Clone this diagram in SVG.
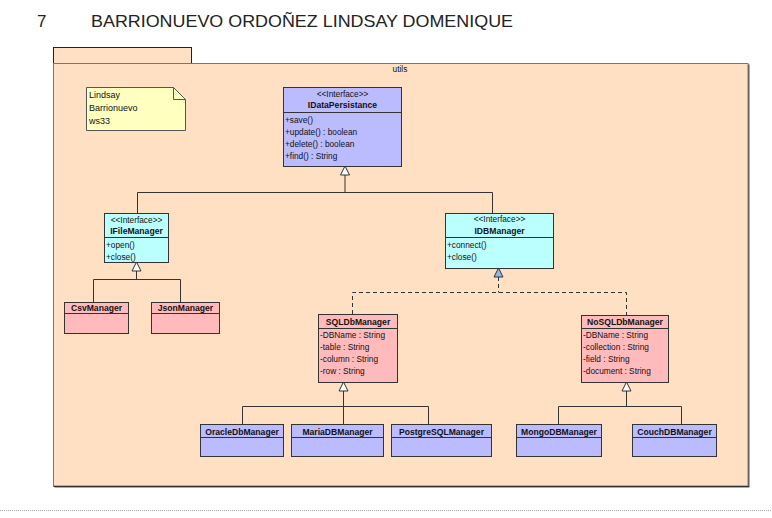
<svg xmlns="http://www.w3.org/2000/svg" width="772" height="518" viewBox="0 0 772 518">
<style>
text{font-family:"Liberation Sans",Arial,sans-serif;fill:#111}
.title{font-size:17px;fill:#222}
.s{font-size:8.3px}
.n{font-size:8.6px;font-weight:bold}
.note{font-size:9px}
.box{stroke:#333;stroke-width:1}
.ifb{fill:#bbbbff}
.ifc{fill:#bbffff}
.pk{fill:#ffbbbb}
.bl{fill:#bbbbff}
.ln{stroke:#333;stroke-width:1;fill:none}
.dash{stroke:#333;stroke-width:1;fill:none;stroke-dasharray:4,3}
.tri{fill:#fff;stroke:#333;stroke-width:1}
.trib{fill:#88bbee;stroke:#333;stroke-width:1}
</style>
<rect x="0" y="0" width="772" height="518" fill="#fff"/>
<text class="title" x="37" y="27">7</text>
<text class="title" x="91" y="27" textLength="422" lengthAdjust="spacingAndGlyphs">BARRIONUEVO ORDOÑEZ LINDSAY DOMENIQUE</text>
<line x1="0" y1="510.5" x2="772" y2="510.5" stroke="#aaa" stroke-width="1" stroke-dasharray="1,1"/>

<g id="package-utils">
<rect x="53.5" y="47.5" width="138" height="16" fill="#ffe0c2" stroke="#222"/>
<rect x="54.5" y="64.5" width="695" height="423" fill="#555"/>
<rect x="53.5" y="63.5" width="694.5" height="422.5" fill="#ffe0c2" stroke="#777"/>
<line x1="53.5" y1="486.5" x2="749" y2="486.5" stroke="#333"/>
<text class="s" x="400" y="72" text-anchor="middle" font-size="8">utils</text>
</g>

<g id="note">
<polygon points="86.5,87.5 173.5,87.5 185.5,99.5 185.5,130.5 86.5,130.5" fill="#ffffc0" stroke="#555"/>
<polyline points="173.5,87.5 173.5,99.5 185.5,99.5" fill="none" stroke="#555"/>
<text class="note" x="89" y="98">Lindsay</text>
<text class="note" x="89" y="111">Barrionuevo</text>
<text class="note" x="89" y="124">ws33</text>
</g>

<g id="connectors">
<polyline class="ln" points="345,175 345,192.5"/>
<polyline class="ln" points="137.5,213 137.5,192.5 492.5,192.5 492.5,213"/>
<polygon class="tri" points="345,166 340.5,175 349.5,175"/>

<polyline class="ln" points="136.5,271 136.5,279.5"/>
<polyline class="ln" points="93.5,302 93.5,279.5 180.5,279.5 180.5,302"/>
<polygon class="tri" points="136.5,262 132,271 141,271"/>

<polyline class="dash" points="498.5,277 498.5,292.5"/>
<polyline class="dash" points="352.5,314 352.5,292.5 626.5,292.5 626.5,315"/>
<polygon class="trib" points="498.5,268 494,277 503,277"/>

<polyline class="ln" points="343.5,391 343.5,424"/>
<polyline class="ln" points="242.5,424 242.5,406.5 428.5,406.5 428.5,424"/>
<polygon class="tri" points="343.5,382 339,391 348,391"/>

<polyline class="ln" points="626.5,391 626.5,406.5"/>
<polyline class="ln" points="558.5,425 558.5,406.5 681.5,406.5 681.5,424"/>
<polygon class="tri" points="626.5,382 622,391 631,391"/>
</g>

<g id="IDataPersistance">
<rect class="box ifb" x="283.5" y="87.5" width="118" height="79"/>
<text class="s" x="342.5" y="97" text-anchor="middle">&lt;&lt;Interface&gt;&gt;</text>
<text class="n" x="342.5" y="108" text-anchor="middle">IDataPersistance</text>
<line class="ln" x1="283.5" y1="112.5" x2="401.5" y2="112.5"/>
<text class="s" x="285" y="123">+save()</text>
<text class="s" x="285" y="135">+update() : boolean</text>
<text class="s" x="285" y="147">+delete() : boolean</text>
<text class="s" x="285" y="159">+find() : String</text>
</g>

<g id="IFileManager">
<rect class="box ifc" x="104.5" y="213.5" width="64" height="49"/>
<text class="s" x="136.5" y="223" text-anchor="middle">&lt;&lt;Interface&gt;&gt;</text>
<text class="n" x="136.5" y="234" text-anchor="middle">IFileManager</text>
<line class="ln" x1="104.5" y1="237.5" x2="168.5" y2="237.5"/>
<text class="s" x="106" y="248">+open()</text>
<text class="s" x="106" y="260">+close()</text>
</g>

<g id="IDBManager">
<rect class="box ifc" x="445.5" y="213.5" width="108" height="55"/>
<text class="s" x="499.5" y="222" text-anchor="middle">&lt;&lt;Interface&gt;&gt;</text>
<text class="n" x="499.5" y="234" text-anchor="middle">IDBManager</text>
<line class="ln" x1="445.5" y1="237.5" x2="553.5" y2="237.5"/>
<text class="s" x="447" y="248">+connect()</text>
<text class="s" x="447" y="260">+close()</text>
</g>

<g id="CsvManager">
<rect class="box pk" x="64.5" y="302.5" width="64" height="31"/>
<line class="ln" x1="64.5" y1="313.5" x2="128.5" y2="313.5"/>
<text class="n" x="96.5" y="311" text-anchor="middle">CsvManager</text>
</g>

<g id="JsonManager">
<rect class="box pk" x="151.5" y="302.5" width="68" height="31"/>
<line class="ln" x1="151.5" y1="313.5" x2="219.5" y2="313.5"/>
<text class="n" x="185.5" y="311" text-anchor="middle">JsonManager</text>
</g>

<g id="SQLDbManager">
<rect class="box pk" x="318.5" y="314.5" width="79" height="68"/>
<text class="n" x="358" y="325" text-anchor="middle">SQLDbManager</text>
<line class="ln" x1="318.5" y1="328.5" x2="397.5" y2="328.5"/>
<text class="s" x="320" y="338">-DBName : String</text>
<text class="s" x="320" y="350">-table : String</text>
<text class="s" x="320" y="362">-column : String</text>
<text class="s" x="320" y="374">-row : String</text>
</g>

<g id="NoSQLDbManager">
<rect class="box pk" x="581.5" y="315.5" width="87" height="67"/>
<text class="n" x="625" y="325" text-anchor="middle">NoSQLDbManager</text>
<line class="ln" x1="581.5" y1="328.5" x2="668.5" y2="328.5"/>
<text class="s" x="583" y="338">-DBName : String</text>
<text class="s" x="583" y="350">-collection : String</text>
<text class="s" x="583" y="362">-field : String</text>
<text class="s" x="583" y="374">-document : String</text>
</g>

<g id="OracleDbManager">
<rect class="box bl" x="200.5" y="424.5" width="83" height="32"/>
<line class="ln" x1="200.5" y1="437.5" x2="283.5" y2="437.5"/>
<text class="n" x="242" y="434.5" text-anchor="middle">OracleDbManager</text>
</g>

<g id="MariaDBManager">
<rect class="box bl" x="291.5" y="424.5" width="92" height="32"/>
<line class="ln" x1="291.5" y1="437.5" x2="383.5" y2="437.5"/>
<text class="n" x="337.5" y="434.5" text-anchor="middle">MariaDBManager</text>
</g>

<g id="PostgreSQLManager">
<rect class="box bl" x="391.5" y="424.5" width="100" height="32"/>
<line class="ln" x1="391.5" y1="437.5" x2="491.5" y2="437.5"/>
<text class="n" x="441.5" y="434.5" text-anchor="middle">PostgreSQLManager</text>
</g>

<g id="MongoDBManager">
<rect class="box bl" x="516.5" y="424.5" width="85" height="32"/>
<line class="ln" x1="516.5" y1="437.5" x2="601.5" y2="437.5"/>
<text class="n" x="559" y="434.5" text-anchor="middle">MongoDBManager</text>
</g>

<g id="CouchDBManager">
<rect class="box bl" x="632.5" y="424.5" width="84" height="32"/>
<line class="ln" x1="632.5" y1="437.5" x2="716.5" y2="437.5"/>
<text class="n" x="674.5" y="434.5" text-anchor="middle">CouchDBManager</text>
</g>
</svg>
